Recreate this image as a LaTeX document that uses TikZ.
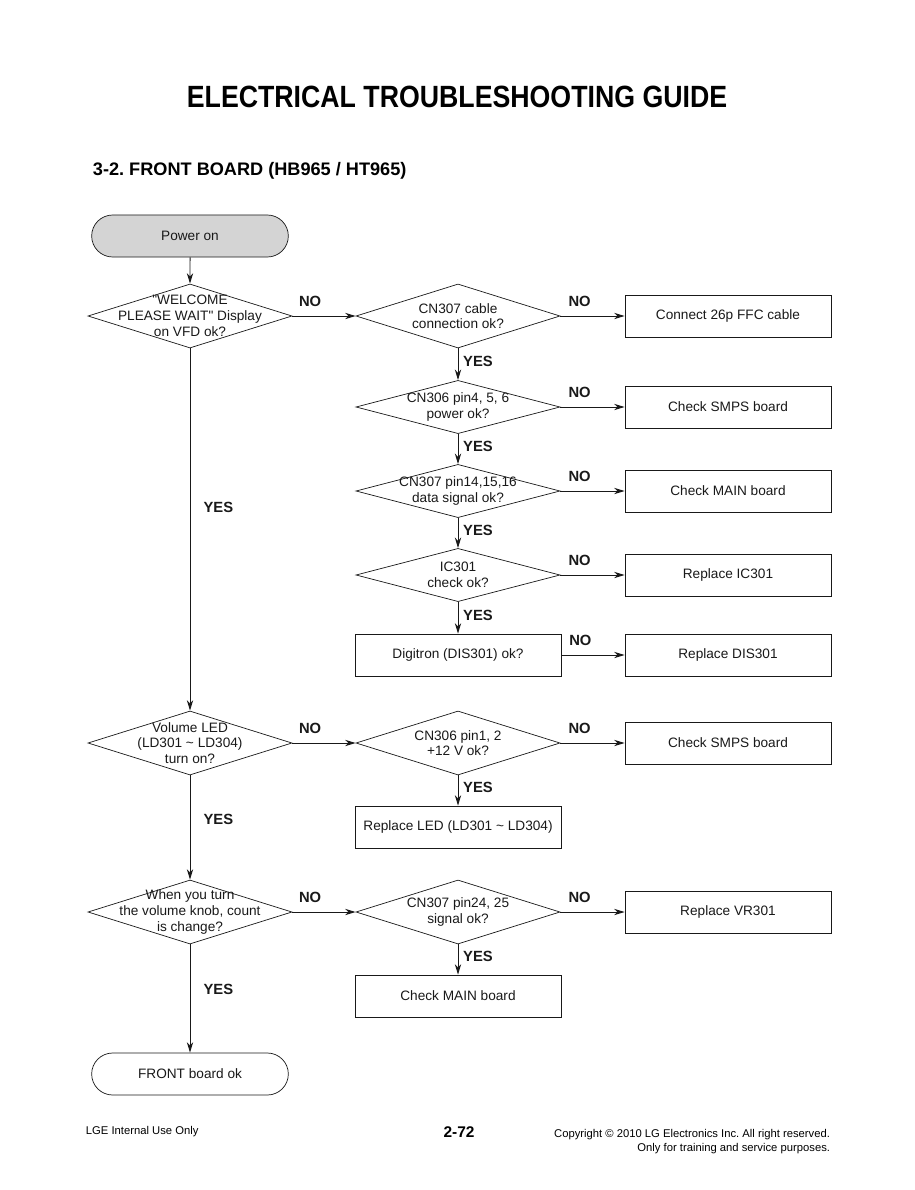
\documentclass[tikz,border=0pt]{standalone}
\usepackage{fontspec}
\setmainfont{Liberation Sans}[Ligatures=TeXOff]
\usepackage{tikz}
\usetikzlibrary{shapes.geometric, shapes.misc, arrows.meta, positioning}
\frenchspacing
\definecolor{mydark}{RGB}{25,25,25}
\definecolor{mygray}{RGB}{212,212,212}
\tikzset{
  txt/.style={font=\fontsize{9.7}{11.2}\selectfont, align=center, text=mydark},
  terminal/.style={rounded rectangle, draw=mydark, minimum width=5.15cm,
    minimum height=1.05cm, line width=0.5pt, txt},
  decision/.style={diamond, draw=mydark, minimum width=5.1cm,
    minimum height=1.6cm, inner sep=0pt, line width=0.5pt},
  lowdecision/.style={decision, minimum height=1.33cm},
  block/.style={rectangle, draw=mydark, minimum width=5.15cm,
    minimum height=1.05cm, line width=0.5pt, txt},
  answer/.style={font=\bfseries\fontsize{10.5}{12}\selectfont, text=mydark},
  arrow/.style={-{Stealth[length=7.5pt, width=4.5pt]}, line width=0.7pt, color=mydark}
}

\begin{document}
\begin{tikzpicture}[x=0.025cm, y=-0.025cm]
  \useasboundingbox (0,0) rectangle (914,1190);

  % headings
  \node[font=\bfseries\fontsize{19}{22}\selectfont] (title) at (457,97)
    {\scalebox{1}[1.15]{ELECTRICAL TROUBLESHOOTING GUIDE}};
  \node[font=\bfseries\fontsize{12.9}{15}\selectfont, anchor=west] (sub) at (88,171)
    {3-2. FRONT BOARD (HB965 / HT965)};

  % left column
  \node[terminal, fill=mygray] (power) at (190,236) {Power on};
  \node[decision, label={[txt]center:{"WELCOME\\PLEASE WAIT" Display\\on VFD ok?}}] (vfd) at (190,316) {};
  \node[decision, label={[txt]center:{Volume LED\\(LD301 \textasciitilde{} LD304)\\turn on?}}] (vled) at (190,743) {};
  \node[decision, label={[txt]center:{When you turn\\the volume knob, count\\is change?}}] (knob) at (190,912) {};
  \node[terminal] (frontok) at (190,1074) {FRONT board ok};

  % middle column
  \node[decision, label={[txt]center:{CN307 cable\\connection ok?}}] (cable) at (458,316) {};
  \node[lowdecision, label={[txt]center:{CN306 pin4, 5, 6\\power ok?}}] (pwr) at (458,407) {};
  \node[lowdecision, label={[txt]center:{CN307 pin14,15,16\\data signal ok?}}] (data) at (458,491) {};
  \node[lowdecision, label={[txt]center:{IC301\\check ok?}}] (ic) at (458,575) {};
  \node[block] (digitron) at (458,655) {Digitron (DIS301) ok?};
  \node[decision, label={[txt]center:{CN306 pin1, 2\\+12 V ok?}}] (volt) at (458,743) {};
  \node[block] (repled) at (458,827) {Replace LED (LD301 \textasciitilde{} LD304)};
  \node[decision, label={[txt]center:{CN307 pin24, 25\\signal ok?}}] (sig) at (458,912) {};
  \node[block] (main2) at (458,996) {Check MAIN board};

  % right column
  \node[block] (ffc) at (728,316) {Connect 26p FFC cable};
  \node[block] (smps1) at (728,407) {Check SMPS board};
  \node[block] (main1) at (728,491) {Check MAIN board};
  \node[block] (repic) at (728,575) {Replace IC301};
  \node[block] (repdis) at (728,655) {Replace DIS301};
  \node[block] (smps2) at (728,743) {Check SMPS board};
  \node[block] (repvr) at (728,912) {Replace VR301};

  % connectors
  \draw[arrow] (power) -- (vfd);
  \draw[arrow] (vfd.east) -- node[answer, above=3pt, pos=0.28] {NO} (cable.west);
  \draw[arrow] (cable.east) -- node[answer, above=3pt, pos=0.3] {NO} (ffc.west);
  \draw[arrow] (cable.south) -- node[answer, right, pos=0.4] {YES} (pwr.north);
  \draw[arrow] (pwr.east) -- node[answer, above=3pt, pos=0.3] {NO} (smps1.west);
  \draw[arrow] (pwr.south) -- node[answer, right, pos=0.42] {YES} (data.north);
  \draw[arrow] (data.east) -- node[answer, above=3pt, pos=0.3] {NO} (main1.west);
  \draw[arrow] (data.south) -- node[answer, right, pos=0.42] {YES} (ic.north);
  \draw[arrow] (ic.east) -- node[answer, above=3pt, pos=0.3] {NO} (repic.west);
  \draw[arrow] (ic.south) -- node[answer, right, pos=0.42] {YES} (digitron.north);
  \draw[arrow] (digitron.east) -- node[answer, above=3pt, pos=0.3] {NO} (repdis.west);
  \draw[arrow] (vfd.south) -- node[answer, right=6pt, pos=0.44] {YES} (vled.north);
  \draw[arrow] (vled.east) -- node[answer, above=3pt, pos=0.28] {NO} (volt.west);
  \draw[arrow] (volt.east) -- node[answer, above=3pt, pos=0.3] {NO} (smps2.west);
  \draw[arrow] (volt.south) -- node[answer, right, pos=0.39] {YES} (repled.north);
  \draw[arrow] (vled.south) -- node[answer, right=6pt, pos=0.42] {YES} (knob.north);
  \draw[arrow] (knob.east) -- node[answer, above=3pt, pos=0.28] {NO} (sig.west);
  \draw[arrow] (sig.east) -- node[answer, above=3pt, pos=0.3] {NO} (repvr.west);
  \draw[arrow] (sig.south) -- node[answer, right, pos=0.39] {YES} (main2.north);
  \draw[arrow] (knob.south) -- node[answer, right=6pt, pos=0.42] {YES} (frontok.north);

  % footer
  \node[font=\fontsize{8}{9.5}\selectfont, anchor=west] (internal) at (81,1132)
    {LGE Internal Use Only};
  \node[font=\bfseries\fontsize{11}{13}\selectfont] (page) at (459,1132) {2-72};
  \node[font=\fontsize{8}{10}\selectfont, align=right, anchor=north east] (copy) at (835,1124)
    {Copyright \textcopyright{} 2010 LG Electronics Inc. All right reserved.\\
     Only for training and service purposes.};
\end{tikzpicture}
\end{document}
